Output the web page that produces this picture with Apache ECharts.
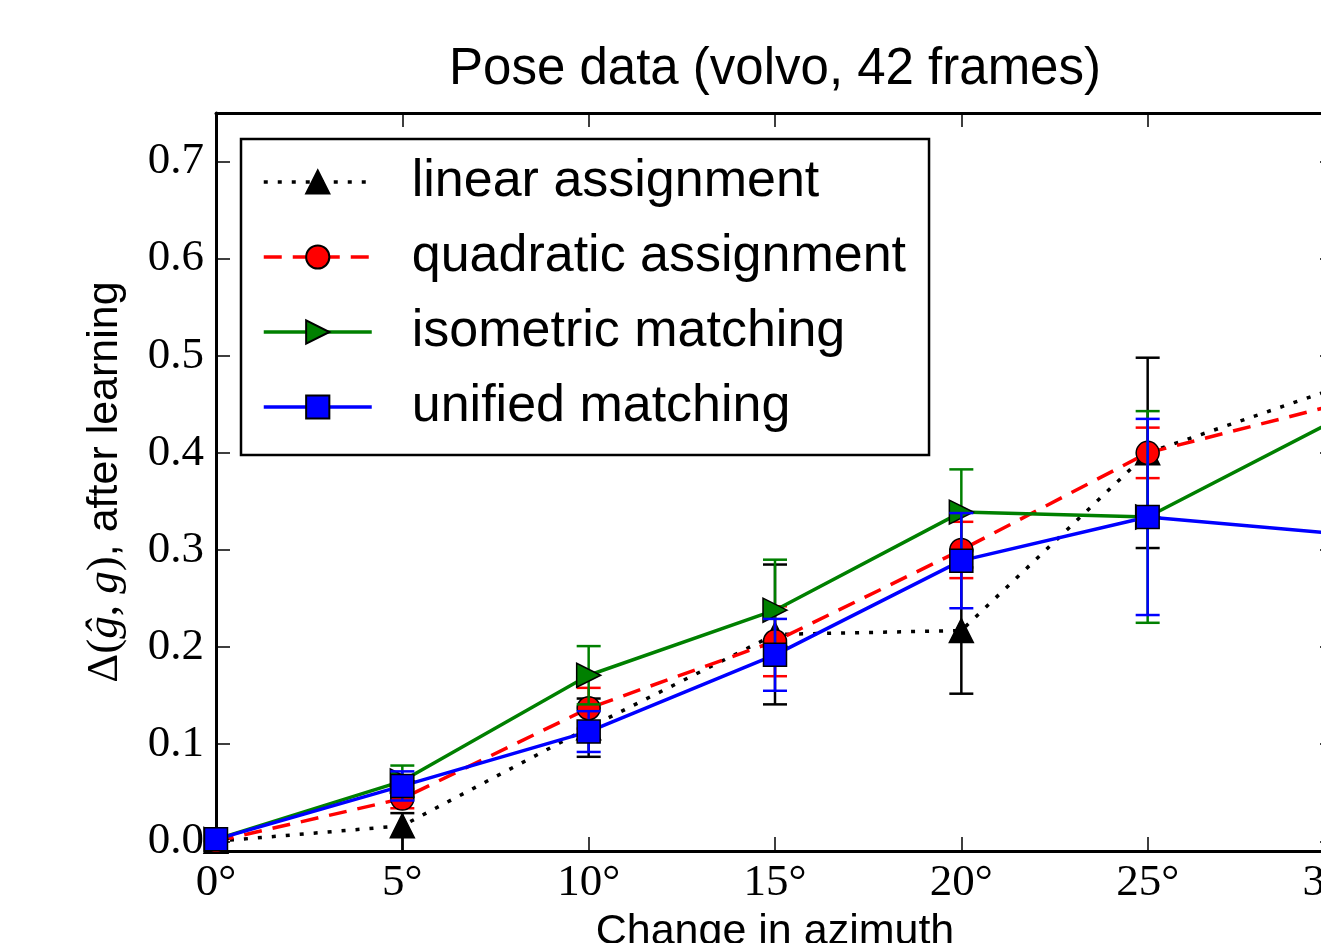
<!DOCTYPE html>
<html>
<head>
<meta charset="utf-8">
<script src="https://cdn.jsdelivr.net/npm/echarts@6/dist/echarts.min.js"></script>
<style>
  html, body { margin: 0; padding: 0; background: #fff; }
  #chart { width: 1321px; height: 943px; }
</style>
</head>
<body>
<div id="chart"></div>
<script>
// azimuth change (degrees)
var xs = [0, 5, 10, 15, 20, 25, 30];
var yTicks = [0, 0.1, 0.2, 0.3, 0.4, 0.5, 0.6, 0.7];

// mean error after learning, per method
var linear = [0.0, 0.016, 0.117, 0.213, 0.217, 0.400, 0.466];
var linLo  = [0, 0.036, 0.030, 0.072, 0.065, 0.098, 0.090];
var linHi  = [0, 0.013, 0.030, 0.072, 0.065, 0.098, 0.090];

var quad    = [0.0, 0.044, 0.137, 0.206, 0.300, 0.400, 0.449];
var quadErr = [0, 0.010, 0.021, 0.036, 0.029, 0.026, 0.030];

var iso    = [0.002, 0.062, 0.171, 0.238, 0.339, 0.334, 0.433];
var isoErr = [0, 0.016, 0.030, 0.052, 0.044, 0.109, 0.100];

var uni    = [0.002, 0.057, 0.113, 0.192, 0.289, 0.334, 0.317];
var uniErr = [0, 0.015, 0.021, 0.037, 0.049, 0.101, 0.100];

var names = ['linear assignment', 'quadratic assignment', 'isometric matching', 'unified matching'];

var chart = echarts.init(document.getElementById('chart'));

function pts(vals) {
    var out = [];
    for (var i = 0; i < xs.length; i++) out.push([xs[i], vals[i]]);
    return out;
}

function errSeries(name, color, vals, lo, hi, z) {
    var d = [];
    for (var i = 0; i < xs.length; i++) d.push([xs[i], vals[i] - lo[i], vals[i] + hi[i]]);
    return {
        name: name + ' err',
        type: 'custom',
        z: z,
        clip: true,
        silent: true,
        data: d,
        encode: { x: 0, y: [1, 2] },
        renderItem: function (params, api) {
            var x = api.value(0);
            var a = api.coord([x, api.value(1)]);
            var b = api.coord([x, api.value(2)]);
            var w = 12;
            var st = { stroke: color, lineWidth: 2.5 };
            return {
                type: 'group',
                children: [
                    { type: 'line', shape: { x1: a[0], y1: a[1], x2: b[0], y2: b[1] }, style: st },
                    { type: 'line', shape: { x1: a[0] - w, y1: a[1], x2: a[0] + w, y2: a[1] }, style: st },
                    { type: 'line', shape: { x1: b[0] - w, y1: b[1], x2: b[0] + w, y2: b[1] }, style: st }
                ]
            };
        }
    };
}

function lineSeries(name, color, vals, dash, symbol, size, rot, z) {
    return {
        name: name,
        type: 'line',
        z: z,
        data: pts(vals),
        symbol: symbol,
        symbolSize: size,
        symbolRotate: rot,
        showAllSymbol: true,
        clip: true,
        lineStyle: { color: color, width: 3.5, type: dash },
        itemStyle: { color: color, borderColor: '#000', borderWidth: 1.5 },
        emphasis: { disabled: true }
    };
}

var spine = { show: true, onZero: false, lineStyle: { color: '#000', width: 3 } };
var tick = { inside: true, length: 14, lineStyle: { color: '#000', width: 1.5 } };

var option = {
    backgroundColor: '#fff',
    animation: false,
    title: {
        text: 'Pose data (volvo, 42 frames)',
        left: 444,
        top: 38,
        textStyle: { fontFamily: 'Liberation Sans', fontSize: 51, fontWeight: 'normal', color: '#000', lineHeight: 54 }
    },
    grid: { left: 216, top: 113, right: -13, bottom: 92, containLabel: false, outerBoundsMode: 'none' },
    legend: {
        data: names,
        orient: 'vertical',
        left: 241,
        top: 139,
        backgroundColor: '#fff',
        borderColor: '#000',
        borderWidth: 2.5,
        padding: [13, 23, 18, 21],
        itemGap: 15,
        itemWidth: 108,
        itemHeight: 29,
        lineStyle: { width: 3.5 },
        textStyle: { fontFamily: 'Liberation Sans', fontSize: 52, color: '#000', lineHeight: 60, padding: [0, 0, 0, 35] }
    },
    xAxis: [{
        type: 'value',
        min: 0, max: 30, interval: 5,
        name: 'Change in azimuth',
        nameLocation: 'middle',
        nameGap: 56,
        nameTextStyle: { fontFamily: 'Liberation Sans', fontSize: 43, color: '#000' },
        axisLine: spine,
        axisTick: tick,
        axisLabel: {
            margin: 10,
            fontFamily: 'Liberation Serif', fontSize: 45, color: '#000',
            formatter: function (v) { return v + '°'; }
        },
        splitLine: { show: false }
    }, {
        type: 'value',
        position: 'top',
        min: 0, max: 30, interval: 5,
        axisLine: spine,
        axisTick: tick,
        axisLabel: { show: false },
        splitLine: { show: false }
    }],
    yAxis: [{
        type: 'value',
        min: -0.01, max: 0.75,
        name: '{m|Δ(}{i|ĝ}{m|, }{i|g}{m|)}, after learning',
        nameLocation: 'middle',
        nameGap: 88,
        nameRotate: 90,
        nameTextStyle: {
            fontFamily: 'Liberation Sans', fontSize: 43, color: '#000',
            rich: {
                m: { fontFamily: 'Liberation Serif', fontSize: 45, color: '#000' },
                i: { fontFamily: 'Liberation Serif', fontStyle: 'italic', fontSize: 45, color: '#000' }
            }
        },
        axisLine: spine,
        axisTick: { inside: true, length: 14, customValues: yTicks, lineStyle: { color: '#000', width: 1.5 } },
        axisLabel: {
            margin: 12,
            customValues: yTicks,
            fontFamily: 'Liberation Serif', fontSize: 45, color: '#000',
            formatter: function (v) { return v.toFixed(1); }
        },
        splitLine: { show: false }
    }, {
        type: 'value',
        position: 'right',
        min: -0.01, max: 0.75,
        axisLine: spine,
        axisTick: { inside: true, length: 14, customValues: yTicks, lineStyle: { color: '#000', width: 1.5 } },
        axisLabel: { show: false },
        splitLine: { show: false }
    }],
    series: [
        errSeries(names[0], '#000000', linear, linLo, linHi, 1),
        lineSeries(names[0], '#000000', linear, [4, 10], 'triangle', 24, 0, 2),
        errSeries(names[1], '#ff0000', quad, quadErr, quadErr, 3),
        lineSeries(names[1], '#ff0000', quad, [18, 11], 'circle', 23, 0, 4),
        errSeries(names[2], '#008000', iso, isoErr, isoErr, 5),
        lineSeries(names[2], '#008000', iso, 'solid', 'triangle', 24, -90, 6),
        errSeries(names[3], '#0000ff', uni, uniErr, uniErr, 7),
        lineSeries(names[3], '#0000ff', uni, 'solid', 'rect', 23, 0, 8)
    ]
};

chart.setOption(option);
</script>
</body>
</html>
